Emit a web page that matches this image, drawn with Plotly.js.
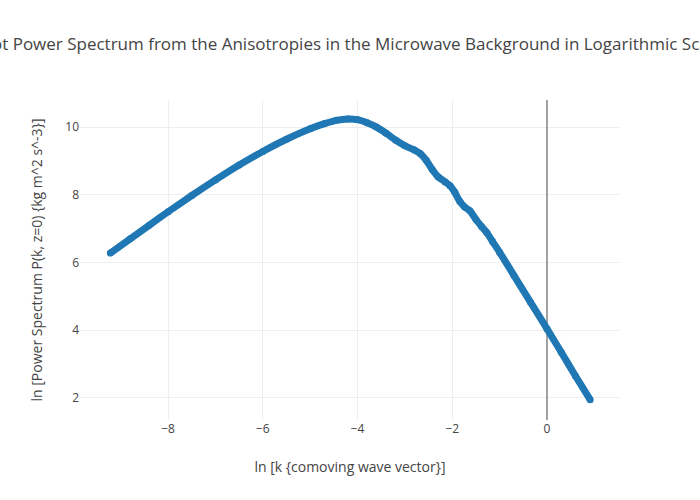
<!DOCTYPE html>
<html>
<head>
<meta charset="utf-8">
<script src="https://cdn.plot.ly/plotly-3.0.1.min.js"></script>
<style>html,body{margin:0;padding:0;background:#fff;}#chart{width:700px;height:500px;}</style>
</head>
<body>
<div id="chart"></div>
<script>
// ln k values (comoving wave vector)
const lnK = [-9.22, -8.8, -8.4, -8.0, -7.5, -7.0, -6.5, -6.0, -5.5, -5.0, -4.7, -4.45, -4.2, -4.0, -3.8, -3.6, -3.4, -3.2, -3.0, -2.8, -2.68, -2.55, -2.42, -2.3, -2.15, -2.05, -1.95, -1.84, -1.74, -1.63, -1.5, -1.38, -1.27, -1.15, -1.0, -0.7, -0.35, 0.0, 0.3, 0.6, 0.91];
// ln P(k, z=0)
const lnP = [6.28, 6.70, 7.10, 7.50, 7.98, 8.44, 8.88, 9.28, 9.64, 9.95, 10.10, 10.20, 10.24, 10.22, 10.13, 10.00, 9.82, 9.62, 9.45, 9.32, 9.22, 9.02, 8.74, 8.53, 8.38, 8.27, 8.08, 7.80, 7.64, 7.53, 7.27, 7.06, 6.88, 6.62, 6.30, 5.62, 4.83, 4.04, 3.35, 2.65, 1.95];

const titleText = "Plot Power Spectrum from the Anisotropies in the Microwave Background in Logarithmic Scale";
const xTitle = "ln [k {comoving wave vector}]";
const yTitle = "ln [Power Spectrum P(k, z=0) {kg m^2 s^-3}]";

const trace = {
  x: lnK,
  y: lnP,
  type: 'scatter',
  mode: 'lines+markers',
  line: {color: '#1f77b4', width: 7, shape: 'spline', smoothing: 0.6},
  marker: {color: '#1f77b4', size: 7},
  showlegend: false
};

const layout = {
  width: 700,
  height: 500,
  margin: {l: 80, r: 80, t: 100, b: 80},
  font: {family: '"Open Sans", verdana, arial, sans-serif', size: 12, color: '#444'},
  title: {text: titleText, font: {size: 17}},
  xaxis: {
    title: {text: xTitle, font: {size: 14}},
    range: [-9.86, 1.54],
    dtick: 2,
    gridcolor: '#eee',
    zeroline: true,
    zerolinecolor: '#a1a1a1',
    zerolinewidth: 2
  },
  yaxis: {
    title: {text: yTitle, font: {size: 14}},
    range: [1.35, 10.8],
    dtick: 2,
    gridcolor: '#eee'
  },
  plot_bgcolor: '#fff',
  paper_bgcolor: '#fff'
};

Plotly.newPlot('chart', [trace], layout, {displayModeBar: false});
</script>
</body>
</html>
